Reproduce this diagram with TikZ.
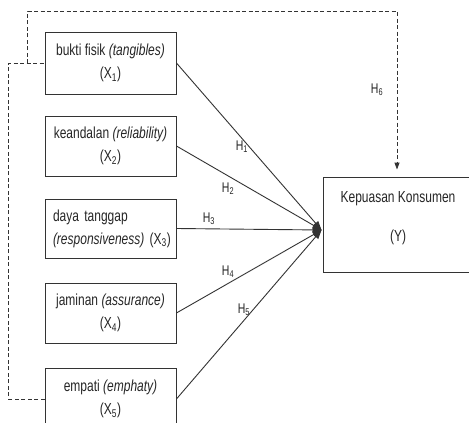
\documentclass[tikz,border=0pt]{standalone}
\usepackage{fontspec}
\setmainfont[FakeStretch=0.75]{Liberation Sans}
\usetikzlibrary{arrows.meta,calc}
\begin{document}
\begin{tikzpicture}[x=1pt,y=-1pt,
  every node/.style={font=\fontsize{16}{23}\selectfont, text=black!85},
  varbox/.style={draw=black!80, line width=0.9pt, minimum width=131pt, align=center, inner sep=0pt},
  ybox/.style={draw=black!80, line width=0.9pt, minimum width=150pt, minimum height=95pt, inner sep=0pt},
  hyp/.style={draw=black!80, line width=0.9pt, -{Triangle[length=9pt,width=6.5pt]}},
  hdash/.style={draw=black!80, line width=0.9pt, dash pattern=on 4pt off 2.5pt},
  hlab/.style={font=\fontsize{14}{15}\selectfont}]
\useasboundingbox (0,0) rectangle (469,423);
\fill[white] (0,0) rectangle (469,423);
\clip (0,0) rectangle (469,423);

% independent variables
\node[varbox, minimum height=62pt] (x1) at (110.5,63) {bukti fisik \textit{(tangibles)}\\(X\textsubscript{1})};
\node[varbox, minimum height=60pt] (x2) at (110.5,146) {keandalan \textit{(reliability)}\\(X\textsubscript{2})};
\node[varbox, minimum height=59pt, text width=115pt, align=left] (x3) at (110.5,228.5) {daya tanggap\\\mbox{\textit{(responsiveness)} (X\textsubscript{3})}};
\node[varbox, minimum height=60pt] (x4) at (110.5,313) {jaminan \textit{(assurance)}\\(X\textsubscript{4})};
\node[varbox, minimum height=62pt] (x5) at (110.5,399) {empati \textit{(emphaty)}\\(X\textsubscript{5})};

% dependent variable
\node[ybox] (y) at (398,224.5) {};
\node[align=center, font=\fontsize{16}{39}\selectfont] (ytext) at (398,218) {Kepuasan Konsumen\\(Y)};

% partial hypotheses
\coordinate (tip) at ($(y.west)+(-1,5.5)$);
\draw[hyp] (x1.east) -- (tip) node[hlab] at (242,147) {H\textsubscript{1}};
\draw[hyp] (x2.east) -- (tip) node[hlab] at (228,189) {H\textsubscript{2}};
\draw[hyp] (x3.east) -- (tip) node[hlab] at (209,219) {H\textsubscript{3}};
\draw[hyp] (x4.east) -- (tip) node[hlab] at (228,272) {H\textsubscript{4}};
\draw[hyp] (x5.east) -- (tip) node[hlab] at (244,310) {H\textsubscript{5}};

% simultaneous hypothesis
\coordinate (split) at ($(x1.west)+(-17,0)$);
\coordinate (corner) at (397,11);
\draw[hdash] (x5.west) -| ($(x1.west)+(-36,0)$) -- (x1.west);
\draw[hdash, -{Triangle[length=7pt,width=5pt]}] (split) |- (corner) -- ($(y.north)+(-1,-7)$);
\node[hlab] (h6) at (377,90) {H\textsubscript{6}};
\end{tikzpicture}
\end{document}
